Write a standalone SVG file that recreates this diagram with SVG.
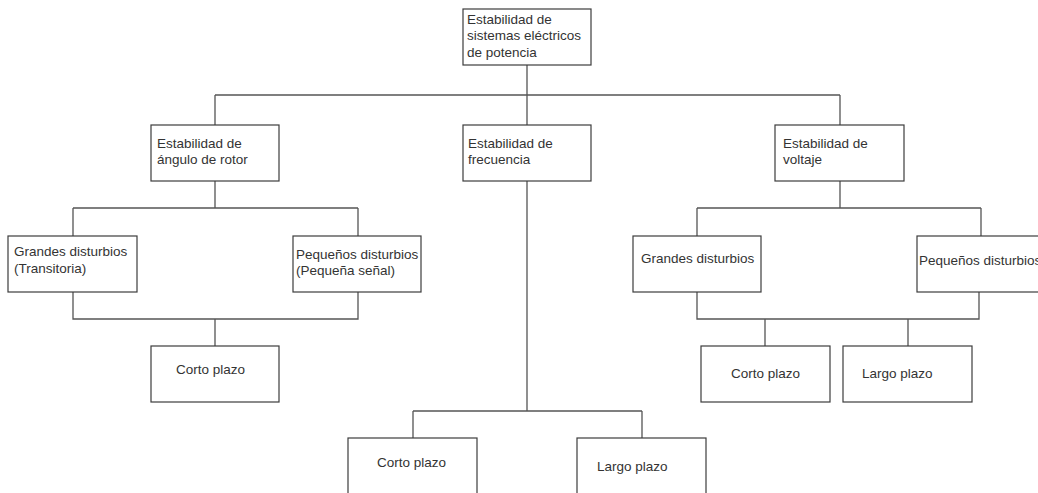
<svg xmlns="http://www.w3.org/2000/svg" width="1038" height="493" viewBox="0 0 1038 493">
<style>
.box{fill:#fff;stroke:#3c3c3c;stroke-width:1.2}
.c{fill:none;stroke:#555;stroke-width:1.3}
text{font-family:"Liberation Sans",Arial,sans-serif;font-size:13.5px;fill:#333}
</style>
<rect width="1038" height="493" fill="#fff"/>
<g id="connectors">
<path class="c" d="M527 65V125M215 95H840M215 95V125M840 95V125"/>
<path class="c" d="M215 181V208M73 208H358M73 208V236M358 208V236"/>
<path class="c" d="M73 292V319H358V292M215 319V346"/>
<path class="c" d="M527 181V411M413 411H642M413 411V438M642 411V438"/>
<path class="c" d="M840 181V208M697 208H981M697 208V236M981 208V236"/>
<path class="c" d="M697 292V319H979V292M765 319V346M908 319V346"/>
</g>
<g id="n-root"><rect class="box" x="463" y="9" width="128" height="56"/><text x="467" y="23.5">Estabilidad de</text><text x="467" y="40">sistemas eléctricos</text><text x="467" y="56.5">de potencia</text></g>
<g id="n-angulo"><rect class="box" x="151" y="125" width="128" height="56"/><text x="157" y="147.5">Estabilidad de</text><text x="157" y="164">ángulo de rotor</text></g>
<g id="n-frecuencia"><rect class="box" x="463" y="125" width="128" height="56"/><text x="468" y="147.5">Estabilidad de</text><text x="468" y="164">frecuencia</text></g>
<g id="n-voltaje"><rect class="box" x="775" y="125" width="129" height="56"/><text x="783" y="147.5">Estabilidad de</text><text x="783" y="164">voltaje</text></g>
<g id="n-ang-grandes"><rect class="box" x="8" y="236" width="129" height="56"/><text x="14" y="256">Grandes disturbios</text><text x="14" y="272.5">(Transitoria)</text></g>
<g id="n-ang-pequenos"><rect class="box" x="293" y="236" width="128" height="56"/><text x="296" y="258.5">Pequeños disturbios</text><text x="296" y="275">(Pequeña señal)</text></g>
<g id="n-ang-corto"><rect class="box" x="151" y="346" width="128" height="56"/><text x="176" y="374">Corto plazo</text></g>
<g id="n-frec-corto"><rect class="box" x="348" y="438" width="129" height="70"/><text x="377" y="467">Corto plazo</text></g>
<g id="n-frec-largo"><rect class="box" x="577" y="438" width="129" height="70"/><text x="597" y="471">Largo plazo</text></g>
<g id="n-volt-grandes"><rect class="box" x="633" y="236" width="128" height="56"/><text x="641" y="263">Grandes disturbios</text></g>
<g id="n-volt-pequenos"><rect class="box" x="917" y="236" width="128" height="56"/><text x="919" y="264.5">Pequeños disturbios</text></g>
<g id="n-volt-corto"><rect class="box" x="701" y="346" width="129" height="56"/><text x="731" y="377.5">Corto plazo</text></g>
<g id="n-volt-largo"><rect class="box" x="843" y="346" width="129" height="56"/><text x="862" y="377.5">Largo plazo</text></g>
</svg>
